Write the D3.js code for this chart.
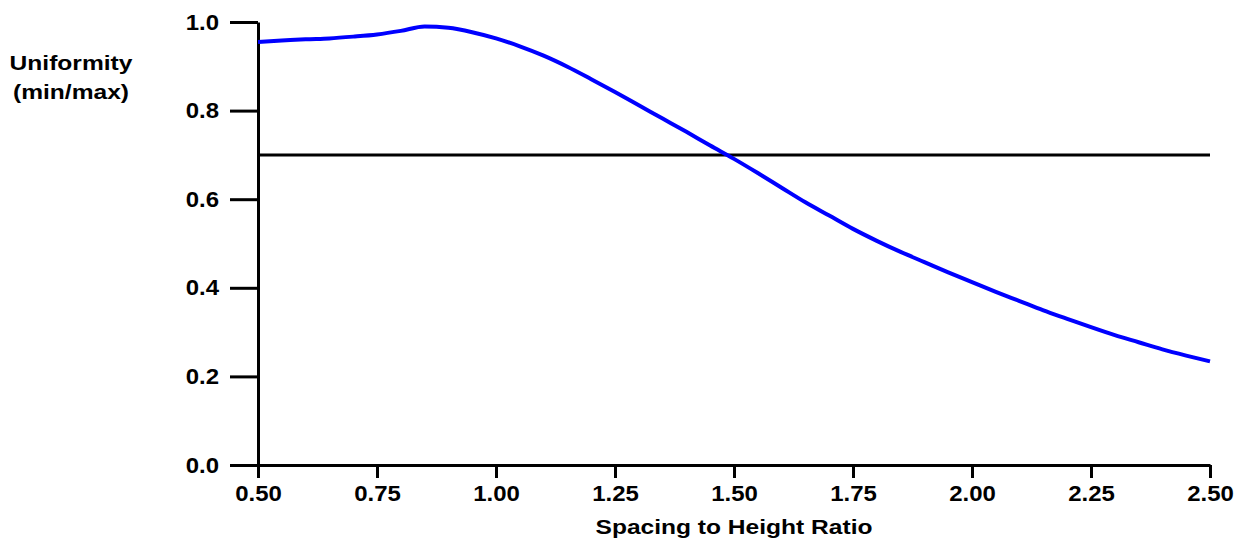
<!DOCTYPE html>
<html>
<head>
<meta charset="utf-8">
<script src="https://cdn.jsdelivr.net/npm/d3@7"></script>
<style>
  body { margin: 0; background: #fff; }
  text { font-family: "Liberation Sans", Arial, sans-serif; font-weight: bold; fill: #000; }
</style>
</head>
<body>
<script>
// spacing-to-height ratio vs uniformity
const ratio = [0.50, 0.55, 0.60, 0.65, 0.70, 0.75, 0.80, 0.85, 0.90, 0.95,
  1.00, 1.05, 1.10, 1.15, 1.20, 1.25, 1.30, 1.35, 1.40, 1.45,
  1.50, 1.55, 1.60, 1.65, 1.70, 1.75, 1.80, 1.85, 1.90, 1.95,
  2.00, 2.05, 2.10, 2.15, 2.20, 2.25, 2.30, 2.35, 2.40, 2.45, 2.50];
const uniformity = [0.955, 0.958, 0.961, 0.963, 0.967, 0.972, 0.980, 0.990, 0.987, 0.977,
  0.963, 0.945, 0.924, 0.899, 0.871, 0.842, 0.812, 0.782, 0.752, 0.721,
  0.691, 0.659, 0.626, 0.593, 0.563, 0.533, 0.506, 0.481, 0.458, 0.435,
  0.413, 0.391, 0.370, 0.349, 0.330, 0.311, 0.293, 0.277, 0.261, 0.247, 0.234];
const threshold = 0.7;
const xTicks = [0.5, 0.75, 1.0, 1.25, 1.5, 1.75, 2.0, 2.25, 2.5];
const yTicks = [0, 0.2, 0.4, 0.6, 0.8, 1.0];

const W = 1247, H = 549;
const margin = { left: 258, right: 37, top: 22, bottom: 84 };
const width = W - margin.left - margin.right;
const height = H - margin.top - margin.bottom;
const tickStretch = 1.09;  // the picture's text is wider than plain Arial
const titleStretch = 1.17;

const svg = d3.select('body').append('svg')
  .attr('width', W)
  .attr('height', H);

const g = svg.append('g')
  .attr('transform', `translate(${margin.left},${margin.top})`);

const x = d3.scaleLinear().domain([0.5, 2.5]).range([0, width]);
const y = d3.scaleLinear().domain([0, 1]).range([height, 0]);

/* axes */
const xAxis = d3.axisBottom(x)
  .tickValues(xTicks)
  .tickFormat(d3.format('.2f'))
  .tickSize(13)
  .tickSizeOuter(0)
  .tickPadding(7);

const yAxis = d3.axisLeft(y)
  .tickValues(yTicks)
  .tickFormat(d3.format('.1f'))
  .tickSize(28)
  .tickSizeOuter(0)
  .tickPadding(11);

const gx = g.append('g')
  .attr('transform', `translate(0,${height})`)
  .call(xAxis);

const gy = g.append('g').call(yAxis);

[gx, gy].forEach(a => {
  a.selectAll('path, line').attr('stroke', '#000').attr('stroke-width', 3);
  a.selectAll('text')
    .attr('fill', '#000')
    .style('font-size', '22px')
    .style('font-family', '"Liberation Sans", Arial, sans-serif')
    .style('font-weight', 'bold');
});
gx.selectAll('text').attr('transform', `scale(${tickStretch},1)`);
gy.selectAll('text').attr('transform', `translate(-39,0) scale(${tickStretch},1) translate(39,0)`);

/* threshold line */
g.append('line')
  .attr('x1', x(0.5)).attr('x2', x(2.5))
  .attr('y1', y(threshold)).attr('y2', y(threshold))
  .attr('stroke', '#000')
  .attr('stroke-width', 3);

/* curve */
const pts = ratio.map((r, i) => [r, uniformity[i]]);
g.append('path')
  .datum(pts)
  .attr('fill', 'none')
  .attr('stroke', '#0000ff')
  .attr('stroke-width', 4)
  .attr('d', d3.line().curve(d3.curveMonotoneX).x(d => x(d[0])).y(d => y(d[1])));

/* titles */
svg.append('text')
  .attr('text-anchor', 'middle')
  .attr('transform', `translate(${margin.left + width / 2},534) scale(${titleStretch},1)`)
  .style('font-size', '21px')
  .text('Spacing to Height Ratio');

const yt = svg.append('text')
  .attr('text-anchor', 'middle')
  .attr('transform', `translate(71,70) scale(${titleStretch},1)`)
  .style('font-size', '21px');
yt.append('tspan').attr('x', 0).attr('y', 0).text('Uniformity');
yt.append('tspan').attr('x', 0).attr('y', 29).text('(min/max)');
</script>
</body>
</html>
